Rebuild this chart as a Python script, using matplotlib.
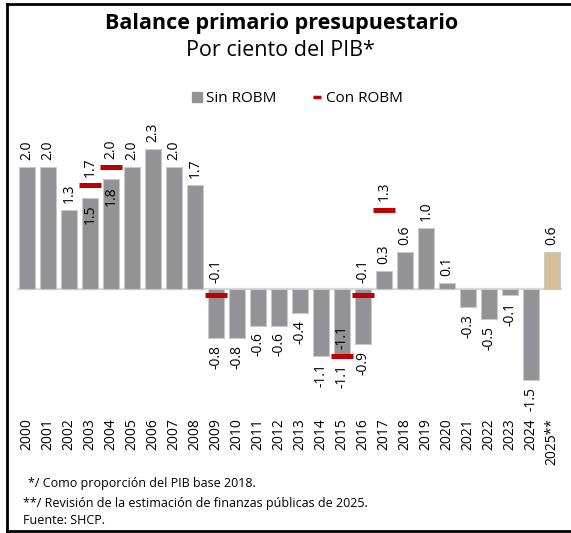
import matplotlib
matplotlib.use("Agg")
import matplotlib.pyplot as plt
from matplotlib.lines import Line2D
import numpy as np

plt.rcParams['font.family'] = ['Open Sans', 'DejaVu Sans']

# datos
years = ['2000', '2001', '2002', '2003', '2004', '2005', '2006', '2007', '2008',
         '2009', '2010', '2011', '2012', '2013', '2014', '2015', '2016', '2017',
         '2018', '2019', '2020', '2021', '2022', '2023', '2024', '2025**']
sin_robm = [2.0, 2.0, 1.3, 1.5, 1.8, 2.0, 2.3, 2.0, 1.7, -0.8, -0.8, -0.6, -0.6,
            -0.4, -1.1, -1.1, -0.9, 0.3, 0.6, 1.0, 0.1, -0.3, -0.5, -0.1, -1.5, 0.6]
con_years = ['2003', '2004', '2009', '2015', '2016', '2017']
con_robm = [1.7, 2.0, -0.1, -1.1, -0.1, 1.3]

# etiquetas que van dentro de la barra / sobre el eje
inside_sin = ['2003', '2004', '2015']
con_on_zero = ['2009', '2016']

gray = '#939397'
tan = '#d5c09a'
red = '#c00000'

fig = plt.figure(figsize=(5.71, 5.33), dpi=100)
ax = fig.add_axes([0.0289, 0.2495, 0.956, 0.5253])

x = np.arange(len(years))
colors = [gray] * (len(years) - 1) + [tan]
ax.bar(x, sin_robm, width=0.76, color=colors, edgecolor='#c9c9cb', linewidth=0.8, zorder=2)
ax.axhline(0, color='#d9d9d9', lw=1.6, zorder=1)

cx = np.array([years.index(y) for y in con_years])
ax.hlines(con_robm, cx - 0.52, cx + 0.52, color=red, lw=3.6, zorder=3)

for xi, yr, v in zip(x, years, sin_robm):
    inside = yr in inside_sin
    up = (v >= 0) != inside
    ax.annotate(f'{v:.1f}', (xi, v), xytext=(0, 5 if up else -5), textcoords='offset points',
                ha='center', va='bottom' if up else 'top', rotation=90, fontsize=10)

for xi, yr, v in zip(cx, con_years, con_robm):
    if yr in con_on_zero:
        ax.annotate(f'{v:.1f}', (xi, 0), xytext=(0, 4), textcoords='offset points',
                    ha='center', va='bottom', rotation=90, fontsize=10)
    else:
        up = v >= 0
        ax.annotate(f'{v:.1f}', (xi, v), xytext=(0, 6 if up else -6), textcoords='offset points',
                    ha='center', va='bottom' if up else 'top', rotation=90, fontsize=10)

ax.set_xlim(-0.5, len(years) - 0.5)
ax.set_ylim(-1.82, 2.77)
ax.set_xticks(x)
ax.set_xticklabels(years, rotation=90, fontsize=10, va='top')
ax.tick_params(axis='x', length=0, pad=13)
ax.set_yticks([])
for s in ax.spines.values():
    s.set_visible(False)

fig.text(0.494, 1 - 23 / 533, 'Balance primario presupuestario', ha='center', va='center',
         fontsize=15.5, fontweight='bold')
fig.text(0.492, 1 - 51 / 533, 'Por ciento del PIB*', ha='center', va='center', fontsize=15.5)

handles = [Line2D([], [], ls='none', marker='s', color=gray, markersize=7),
           Line2D([], [], ls='none', marker='_', color=red, markersize=6, mew=2.5)]
fig.legend(handles, ['Sin ROBM', 'Con ROBM'], loc='center', ncol=2, frameon=False,
           bbox_to_anchor=(0.52, 1 - 99 / 533), fontsize=11, handlelength=0.8,
           handletextpad=0.2, columnspacing=2.2)

fig.text(28 / 571, 1 - 483 / 533, '*/ Como proporción del PIB base 2018.', va='center', fontsize=9)
fig.text(23 / 571, 1 - 503 / 533, '**/ Revisión de la estimación de finanzas públicas de 2025.',
         va='center', fontsize=9)
fig.text(23 / 571, 1 - 520 / 533, 'Fuente: SHCP.', va='center', fontsize=9)

# marco
for xs, ys in [([7 / 571, 1], [1 - 4 / 533] * 2), ([7 / 571] * 2, [1 - 4 / 533, 1 - 531 / 533]),
               ([7 / 571, 1], [1 - 531 / 533] * 2)]:
    fig.add_artist(Line2D(xs, ys, color='black', lw=2, transform=fig.transFigure))

fig.savefig('out.png', dpi=100)
